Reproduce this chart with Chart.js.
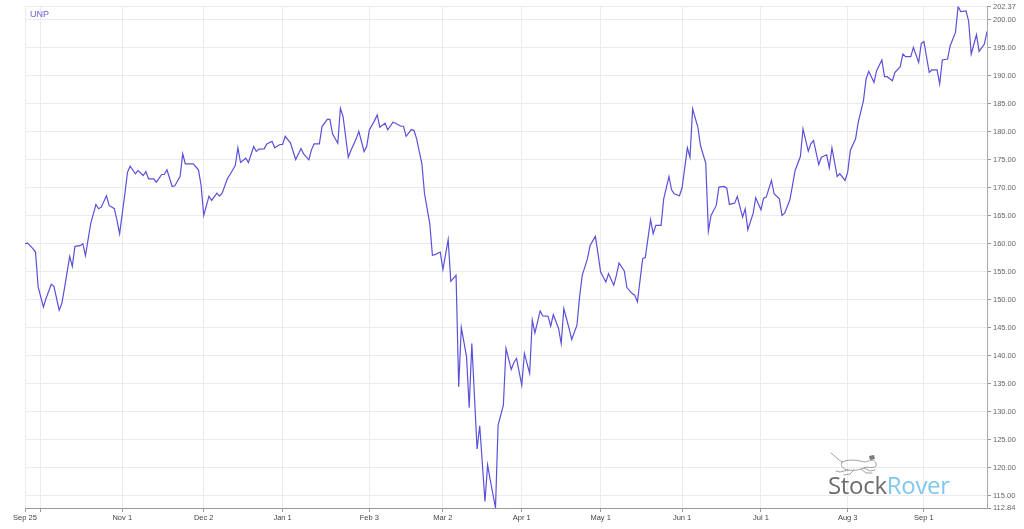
<!DOCTYPE html>
<html>
<head>
<meta charset="utf-8">
<script src="https://cdn.jsdelivr.net/npm/chart.js@4.4.0/dist/chart.umd.min.js"></script>
<style>
  body { margin: 0; background: #fff; }
  #wrap { position: relative; width: 1024px; height: 529px; }
  #ticker { position: absolute; left: 30px; top: 9px; font: 9px "Liberation Sans", Arial, sans-serif; color: #6a5fd8; }
  #logo { position: absolute; left: 828px; top: 468px; font: 24px "Open Sans", sans-serif; letter-spacing: -0.3px; }
  #logo .a { color: #6d6d6d; }
  #logo .b { color: #80c8f0; }
  #dog { position: absolute; left: 828px; top: 450px; }
</style>
</head>
<body>
<div id="wrap">
  <canvas id="myChart" width="1024" height="529"></canvas>
  <div id="ticker">UNP</div>
  <svg id="dog" width="52" height="28" viewBox="0 0 52 28">
    <g fill="none" stroke="#8a8a8a" stroke-width="0.8" stroke-linecap="round">
      <path d="M3 3 L10 9 L14 12" />
      <path d="M14 12 C20 9, 30 10, 36 12 C39 12, 41 11, 43 10" />
      <path d="M14 12 C12 15, 14 19, 20 20 C26 21, 32 20, 36 18" />
      <path d="M43 10 C47 10, 49 13, 48 16 C46 18, 42 18, 39 17 L36 18" />
      <path d="M20 20 L12 22 L8 21" />
      <path d="M26 20 L22 24 L16 25" />
      <path d="M33 19 L38 23 L44 23" />
      <path d="M36 18 L42 21 L47 20" />
    </g>
    <path d="M41 6 L46 5 L47 9 L42 10 Z" fill="#7a7a7a" />
  </svg>
  <div id="logo"><span class="a">Stock</span><span class="b">Rover</span></div>
</div>
<script>
// days since 2019-09-25, closing price of UNP
const days = [0,1,3,4,5,7,8,10,11,13,14,15,17,18,19,21,22,23,25,27,28,29,31,32,34,35,36,38,39,40,
  42,43,45,46,47,49,50,52,53,54,56,57,59,60,61,63,64,66,67,68,70,71,73,74,75,77,78,80,81,82,
  84,85,87,88,89,91,92,94,95,97,98,99,101,102,103,105,106,108,109,110,112,113,115,116,117,119,120,121,123,124,
  126,127,129,130,131,133,134,135,137,138,140,141,143,144,145,147,148,149,151,152,154,155,156,158,159,161,162,164,165,166,
  168,169,170,172,173,175,176,177,179,180,182,183,185,186,187,189,190,192,193,194,196,197,199,200,201,203,204,205,207,208,
  210,211,212,214,215,217,218,219,221,222,224,225,226,228,229,231,232,233,235,236,238,239,240,242,243,245,246,247,249,250,
  252,253,254,256,257,259,260,261,263,264,266,267,268,270,271,273,274,275,277,278,280,281,282,284,285,287,288,289,291,292,
  293,295,296,298,299,300,302,303,305,306,307,309,310,312,313,314,316,317,319,320,321,323,324,326,327,328,330,331,333,334,
  335,337,338,340,341,342,344,345,347,348,349,351,352,354,355,356,358,359,360,362,363,365,366];

const close = [160.03,160.14,159.14,158.53,152.30,148.73,150.23,152.78,152.42,148.15,149.34,152.01,157.77,155.99,159.55,159.68,160.03,157.89,163.60,167.03,
  166.27,166.55,168.59,166.86,166.27,164.18,161.81,168.94,172.79,173.86,172.51,173.09,172.20,172.91,171.61,171.61,171.01,172.38,172.38,173.22,
  170.24,170.37,172.02,176.07,174.29,174.29,174.29,173.22,170.42,165.07,168.51,167.75,169.05,168.51,169.05,171.61,172.38,173.98,177.14,174.52,
  175.29,174.52,177.37,176.51,176.92,176.96,177.85,178.31,177.14,177.73,177.73,179.20,178.03,176.53,175.05,177.01,176.07,175.00,176.78,177.85,
  177.85,180.93,182.23,182.23,179.63,177.96,184.19,182.77,175.46,176.66,178.74,180.10,176.48,177.37,180.35,182.00,183.02,180.81,181.52,180.35,
  181.70,181.52,180.99,180.99,179.20,180.40,180.22,178.74,174.29,168.94,163.60,157.95,158.07,158.53,155.40,160.74,153.31,154.38,134.48,145.06,
  139.82,130.74,142.21,123.38,127.53,113.99,120.53,117.85,112.84,127.65,131.22,141.32,137.58,138.83,139.54,134.78,140.43,136.87,146.36,144.10,
  148.02,147.13,147.08,145.30,147.38,144.89,142.21,148.45,144.89,142.93,145.47,150.52,154.38,157.36,159.73,161.33,158.25,154.97,153.19,154.69,
  152.60,154.38,156.58,155.15,152.19,151.12,150.82,149.63,157.36,157.54,164.31,161.81,163.29,163.29,168.05,172.02,169.65,168.94,168.59,170.01,
  177.14,175.46,184.09,180.81,177.55,174.39,162.28,165.07,166.86,170.12,170.24,169.94,167.03,167.27,168.46,164.77,166.27,162.53,165.38,168.23,
  166.09,168.16,168.34,171.31,168.94,168.05,165.07,165.48,167.87,170.42,173.09,175.59,180.52,176.53,177.85,178.44,174.16,175.46,175.89,173.57,
  177.14,172.02,172.51,171.31,172.79,176.66,178.74,181.70,185.57,189.43,190.79,188.83,190.91,192.82,189.84,189.84,189.13,190.61,191.63,193.89,
  193.41,193.41,195.06,192.39,195.78,196.13,190.61,191.04,191.04,188.54,192.82,193.00,195.37,197.74,202.37,201.48,201.60,199.82,193.89,197.33,
  194.35,195.67,197.92];

// x ticks: first trading day of each month (Oct 1 has a grid line but no label)
const tickDays = [0, 6, 37, 68, 98, 131, 159, 189, 219, 250, 280, 313, 342];
const tickLabels = ["Sep 25", "", "Nov 1", "Dec 2", "Jan 1", "Feb 3", "Mar 2", "Apr 1", "May 1", "Jun 1", "Jul 1", "Aug 3", "Sep 1"];

const yMin = 112.84;
const yMax = 202.37;
const yTicks = [112.84, 115, 120, 125, 130, 135, 140, 145, 150, 155, 160, 165, 170, 175, 180, 185, 190, 195, 200, 202.37];

const ctx = document.getElementById("myChart").getContext("2d");
const myChart = new Chart(ctx, {
  type: "line",
  data: {
    datasets: [
      {
        label: "UNP",
        data: days.map((d, i) => ({ x: d, y: close[i] })),
        borderColor: "#5b50d8",
        borderWidth: 1.2,
        pointRadius: 0,
        tension: 0,
        fill: false,
      },
    ],
  },
  options: {
    responsive: false,
    animation: false,
    layout: { padding: { left: 25, top: 6, right: 0, bottom: 0 } },
    plugins: { legend: { display: false }, tooltip: { enabled: false } },
    scales: {
      x: {
        type: "linear",
        min: 0,
        max: 366,
        afterBuildTicks: (scale) => {
          scale.ticks = tickDays.map((v) => ({ value: v }));
        },
        afterFit: (scale) => {
          scale.height = 21;
        },
        ticks: {
          autoSkip: false,
          maxRotation: 0,
          padding: 1,
          color: "#444",
          font: { family: "'Liberation Sans', Arial", size: 7.5 },
          callback: (v, i) => tickLabels[i],
        },
        grid: { color: "#ebebeb", tickColor: "#999", tickLength: 4 },
        border: { color: "#999" },
      },
      y: {
        position: "right",
        min: yMin,
        max: yMax,
        afterBuildTicks: (scale) => {
          scale.ticks = yTicks.map((v) => ({ value: v }));
        },
        afterFit: (scale) => {
          scale.width = 37;
        },
        ticks: {
          padding: 2,
          color: "#666",
          font: { family: "'Liberation Sans', Arial", size: 7.5 },
          callback: (v) => Number(v).toFixed(2),
        },
        grid: { color: "#ebebeb", tickColor: "#999", tickLength: 4 },
        border: { color: "#aaa" },
      },
    },
  },
});
</script>
</body>
</html>
